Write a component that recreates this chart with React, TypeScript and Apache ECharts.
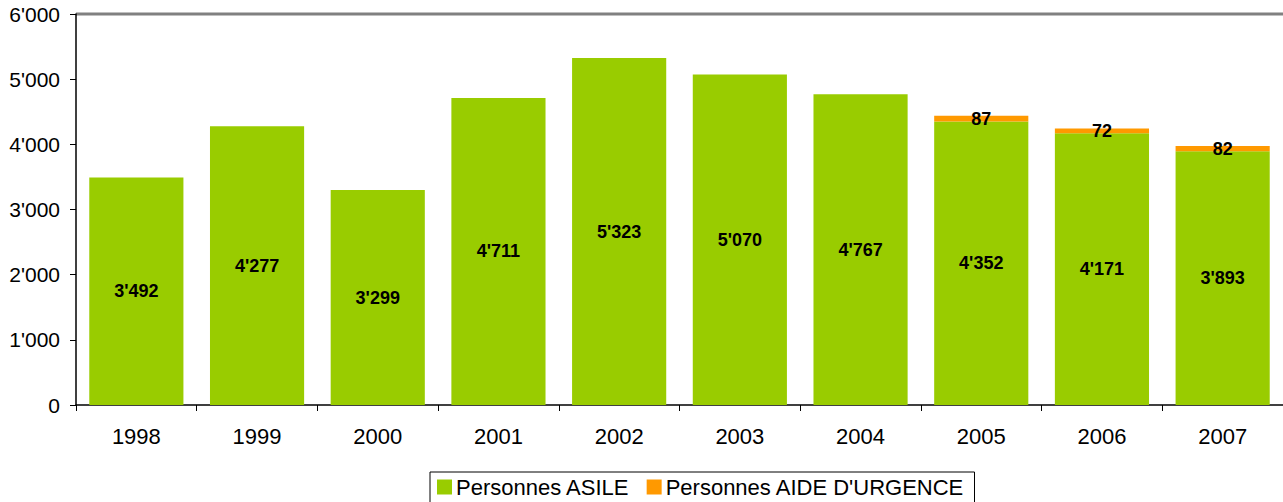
import React, { useEffect, useRef } from "react";
import * as echarts from "echarts";

const years = ["1998", "1999", "2000", "2001", "2002", "2003", "2004", "2005", "2006", "2007"];
const asile = [3492, 4277, 3299, 4711, 5323, 5070, 4767, 4352, 4171, 3893];
const urgence = [null, null, null, null, null, null, null, 87, 72, 82];
const yTicks = [0, 1000, 2000, 3000, 4000, 5000, 6000];

const fmt = (v: number) => String(v).replace(/\B(?=(\d{3})+(?!\d))/g, "'");

export default function App() {
  const ref = useRef<HTMLDivElement>(null);
  useEffect(() => {
    document.body.style.margin = "0";
    const chart = echarts.init(ref.current!, null, { renderer: "svg" });
    const font = "Liberation Sans, Arial, sans-serif";
    chart.setOption({
      animation: false,
      textStyle: { fontFamily: font },
      grid: { left: 76, right: 0, top: 14, bottom: 97, containLabel: false },
      legend: {
        top: 472,
        left: 430,
        itemWidth: 15,
        itemHeight: 15,
        itemGap: 17,
        borderColor: "#000",
        borderWidth: 1,
        borderRadius: 0,
        padding: [4, 10, 8, 7],
        icon: "rect",
        textStyle: { fontSize: 22, color: "#000", fontFamily: font, padding: [0, 0, 0, -1] },
        data: ["Personnes ASILE", "Personnes AIDE D'URGENCE"],
      },
      xAxis: {
        type: "category",
        data: years,
        axisLine: { lineStyle: { color: "#000", width: 1.5 } },
        axisTick: { show: true, length: 6, lineStyle: { color: "#000" } },
        axisLabel: { fontSize: 22, color: "#000", margin: 20, fontFamily: font },
      },
      yAxis: {
        type: "value",
        min: yTicks[0],
        max: yTicks[yTicks.length - 1],
        interval: 1000,
        axisLine: { show: true, lineStyle: { color: "#000", width: 1.5 } },
        axisTick: { show: true, length: 6, lineStyle: { color: "#000" } },
        splitLine: { show: false },
        axisLabel: { fontSize: 21, color: "#000", margin: 16, fontFamily: font, formatter: (v: number) => fmt(v) },
      },
      graphic: [
        { type: "rect", shape: { x: 76, y: 12.5, width: 1207, height: 3 }, style: { fill: "#808080" } },
      ],
      series: [
        {
          name: "Personnes ASILE",
          type: "bar",
          stack: "a",
          data: asile,
          barWidth: "78%",
          itemStyle: { color: "#99cc00" },
          label: {
            show: true,
            position: "inside",
            color: "#000",
            fontWeight: "bold",
            fontSize: 18,
            fontFamily: font,
            formatter: (p: any) => fmt(p.value),
          },
        },
        {
          name: "Personnes AIDE D'URGENCE",
          type: "bar",
          stack: "a",
          data: urgence,
          barWidth: "78%",
          itemStyle: { color: "#ff9900" },
          label: {
            show: true,
            position: "inside",
            color: "#000",
            fontWeight: "bold",
            fontSize: 18,
            fontFamily: font,
            formatter: (p: any) => fmt(p.value),
          },
        },
      ],
    });
    return () => chart.dispose();
  }, []);
  return <div ref={ref} style={{ width: 1283, height: 502 }} />;
}
